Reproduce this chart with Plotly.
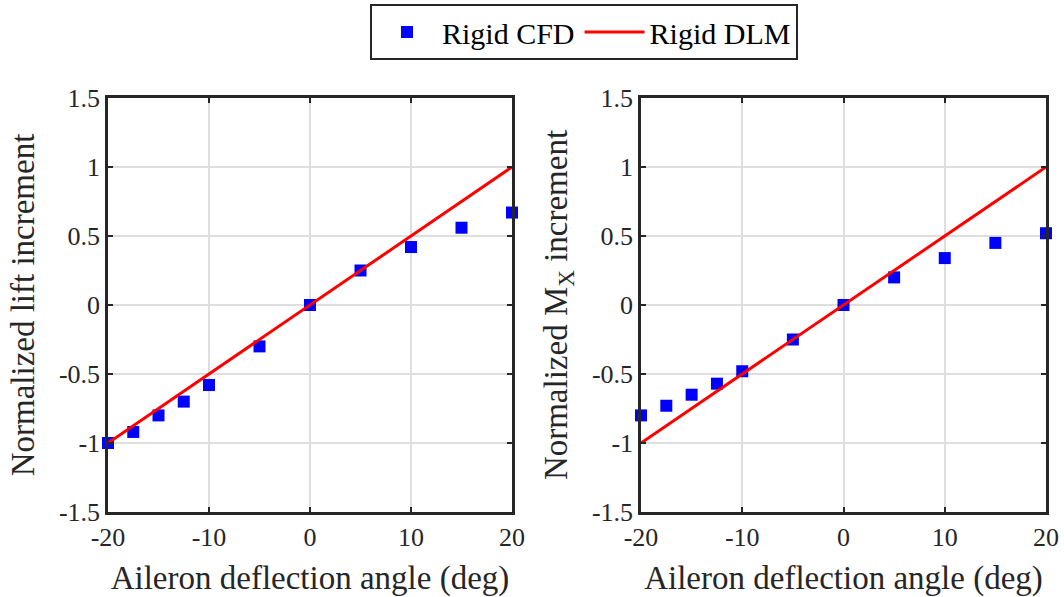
import plotly.graph_objects as go

angles = [-20, -17.5, -15, -12.5, -10, -5, 0, 5, 10, 15, 20]
lift_cfd = [-1.0, -0.92, -0.80, -0.70, -0.58, -0.30, 0.0, 0.25, 0.42, 0.56, 0.67]
mx_cfd = [-0.80, -0.73, -0.65, -0.57, -0.48, -0.25, 0.0, 0.20, 0.34, 0.45, 0.52]
dlm_x = [-20, 20]
lift_dlm = [-1.0, 1.0]
mx_dlm = [-1.0, 1.0]
x_ticks = [-20, -10, 0, 10, 20]
x_ticktext = ["-20", "-10", "0", "10", "20"]
y_ticks = [-1.5, -1, -0.5, 0, 0.5, 1, 1.5]
y_ticktext = ["-1.5", "-1", "-0.5", "0", "0.5", "1", "1.5"]

W, H = 1064, 597
T, B = 98, 85
PLOT_H = H - T - B

font_family = "Liberation Serif, Times New Roman, serif"
fig = go.Figure()

fig.add_trace(go.Scatter(x=angles, y=lift_cfd, mode="markers", name="Rigid CFD",
                         marker=dict(symbol="square", size=12, color="#0000ff"),
                         xaxis="x", yaxis="y", cliponaxis=False))
fig.add_trace(go.Scatter(x=dlm_x, y=lift_dlm, mode="lines", name="Rigid DLM",
                         line=dict(color="#ff0000", width=3),
                         xaxis="x", yaxis="y"))
fig.add_trace(go.Scatter(x=angles, y=mx_cfd, mode="markers", name="Rigid CFD",
                         marker=dict(symbol="square", size=12, color="#0000ff"),
                         xaxis="x2", yaxis="y2", showlegend=False, cliponaxis=False))
fig.add_trace(go.Scatter(x=dlm_x, y=mx_dlm, mode="lines", name="Rigid DLM",
                         line=dict(color="#ff0000", width=3),
                         xaxis="x2", yaxis="y2", showlegend=False))

axis_common = dict(showline=True, linecolor="#262626", linewidth=2.5, mirror="allticks",
                   ticks="inside", ticklen=5, tickwidth=2, tickcolor="#262626",
                   showgrid=True, gridcolor="#dedede", gridwidth=1.5, zeroline=False,
                   automargin=False,
                   tickfont=dict(family=font_family, size=26, color="#262626"))

title_font = dict(family=font_family, size=33, color="#262626")
xcommon = dict(axis_common, range=[-20, 20], tickvals=x_ticks, ticktext=x_ticktext,
               title=dict(text="Aileron deflection angle (deg)", font=title_font))
ycommon = dict(axis_common, range=[-1.5, 1.5], tickvals=y_ticks, ticktext=y_ticktext)

fig.update_layout(
    width=W, height=H,
    paper_bgcolor="white", plot_bgcolor="white",
    margin=dict(l=0, r=0, t=T, b=B, pad=0),
    xaxis=dict(xcommon, domain=[108/W, 512/W], anchor="y"),
    yaxis=dict(ycommon, domain=[0, 1], anchor="x",
               title=dict(text="Normalized lift increment", font=title_font)),
    xaxis2=dict(xcommon, domain=[641/W, 1046/W], anchor="y2"),
    yaxis2=dict(ycommon, domain=[0, 1], anchor="x2",
                title=dict(text="Normalized M<sub>X</sub> increment", font=title_font)),
    legend=dict(orientation="h", x=584/W, xanchor="center",
                y=1 + (T - 32) / PLOT_H, yanchor="middle",
                bordercolor="#262626", borderwidth=2, bgcolor="white",
                font=dict(family=font_family, size=30, color="black"),
                itemwidth=60, tracegroupgap=0),
    showlegend=True,
)

fig.write_html("out.html",
               config={"displayModeBar": False},
               post_script="document.body.style.margin='0';document.body.style.overflow='hidden';")
